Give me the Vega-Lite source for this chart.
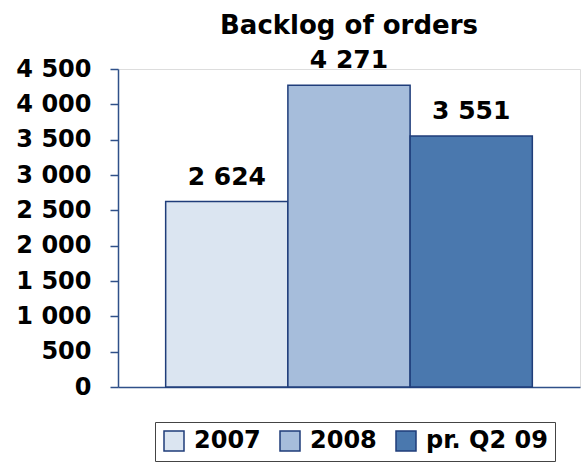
{
  "$schema": "https://vega.github.io/schema/vega-lite/v6.json",
  "width": 462,
  "height": 318,
  "autosize": "none",
  "padding": {"left": 118, "top": 69, "right": 1, "bottom": 77},
  "background": "white",
  "config": {
    "locale": {"number": {"decimal": ".", "thousands": " ", "grouping": [3], "currency": ["", ""]}}
  },
  "title": {
    "text": "Backlog of orders",
    "font": "DejaVu Sans",
    "fontSize": 26,
    "fontWeight": "bold",
    "color": "black",
    "anchor": "middle",
    "frame": "group",
    "baseline": "alphabetic",
    "offset": -12
  },
  "data": {
    "values": [
      {"series": "2007", "value": 2624},
      {"series": "2008", "value": 4271},
      {"series": "pr. Q2 09", "value": 3551}
    ]
  },
  "encoding": {
    "x": {
      "field": "series",
      "type": "nominal",
      "sort": null,
      "scale": {"paddingInner": 0, "paddingOuter": 0.39},
      "axis": {"title": null, "labels": false, "ticks": false, "domainColor": "#2f5089", "domainWidth": 1.5}
    },
    "y": {
      "field": "value",
      "type": "quantitative",
      "scale": {"domain": [0, 4500], "nice": false},
      "axis": {
        "title": null,
        "values": [0, 500, 1000, 1500, 2000, 2500, 3000, 3500, 4000, 4500],
        "labelExpr": "format(datum.value, ',')",
        "labelFont": "DejaVu Sans",
        "labelFontSize": 24,
        "labelFontWeight": "bold",
        "labelColor": "black",
        "labelPadding": 19,
        "tickSize": 8,
        "tickColor": "#2f5089",
        "tickWidth": 1.5,
        "domainColor": "#2f5089",
        "domainWidth": 1.5,
        "grid": false
      }
    }
  },
  "layer": [
    {
      "mark": {"type": "bar", "stroke": "#1f3d7a", "strokeWidth": 1.5},
      "encoding": {
        "fill": {
          "field": "series",
          "type": "nominal",
          "sort": null,
          "scale": {"domain": ["2007", "2008", "pr. Q2 09"], "range": ["#dbe5f1", "#a6bddb", "#4a78ae"]},
          "legend": {
            "title": null,
            "orient": "none",
            "legendX": 37,
            "legendY": 353,
            "direction": "horizontal",
            "strokeColor": "#444444",
            "fillColor": "white",
            "padding": 7,
            "symbolType": "square",
            "symbolSize": 400,
            "symbolStrokeColor": "#1f3d7a",
            "symbolStrokeWidth": 1.5,
            "symbolOpacity": 1,
            "labelFont": "DejaVu Sans",
            "labelFontSize": 24,
            "labelFontWeight": "bold",
            "labelColor": "black",
            "labelOffset": 8,
            "columnPadding": 16
          }
        }
      }
    },
    {
      "mark": {"type": "text", "font": "DejaVu Sans", "fontSize": 25, "fontWeight": "bold", "color": "black", "baseline": "alphabetic", "dy": -17},
      "encoding": {
        "text": {"field": "value", "type": "quantitative", "format": ","}
      }
    }
  ]
}
